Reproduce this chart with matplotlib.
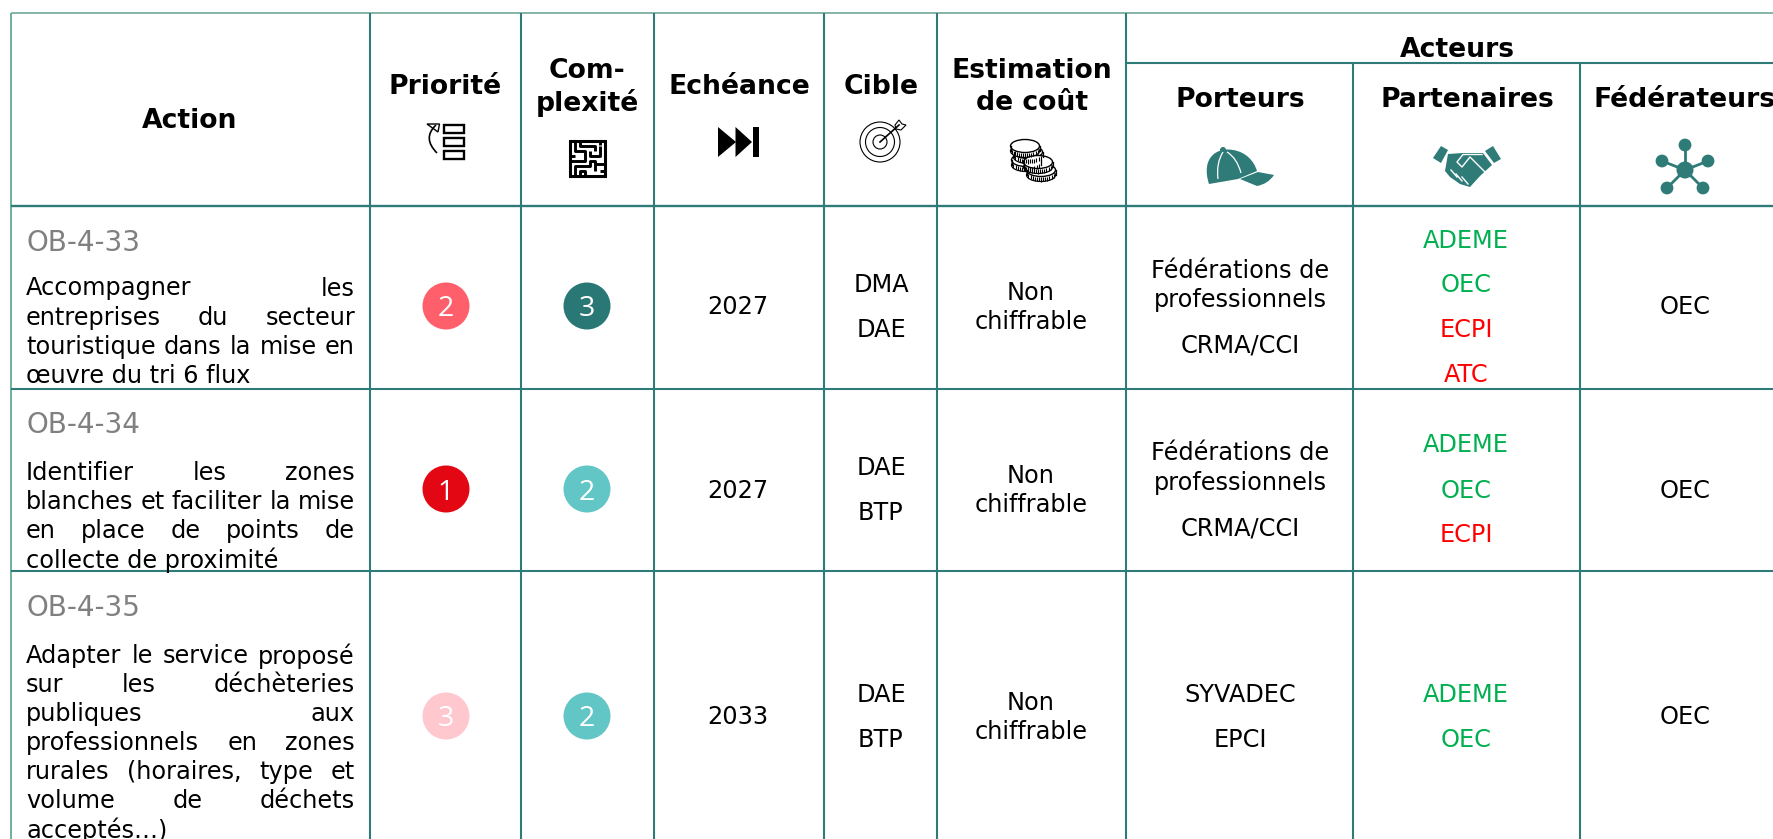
import matplotlib
matplotlib.use("Agg")
import matplotlib.pyplot as plt
from matplotlib.patches import Circle, Rectangle, Polygon, Ellipse, PathPatch
from matplotlib.path import Path

W, H = 1773, 839
TEAL = "#2E7B78"
GREEN = "#00B050"
RED = "#FF0000"
GREY = "#808080"

codes = ["OB-4-33", "OB-4-34", "OB-4-35"]
action_lines = [
    ["Accompagner les", "entreprises du secteur", "touristique dans la mise en", "œuvre du tri 6 flux"],
    ["Identifier les zones", "blanches et faciliter la mise", "en place de points de", "collecte de proximité"],
    ["Adapter le service proposé", "sur les déchèteries", "publiques aux", "professionnels en zones",
     "rurales (horaires, type et", "volume de déchets", "acceptés…)"],
]
priorities = [2, 1, 3]
complexities = [3, 2, 2]
years = ["2027", "2027", "2033"]
targets = [["DMA", "DAE"], ["DAE", "BTP"], ["DAE", "BTP"]]
costs = [["Non", "chiffrable"]] * 3
porteurs = [["Fédérations de", "professionnels", "CRMA/CCI"], ["Fédérations de", "professionnels", "CRMA/CCI"], ["SYVADEC", "EPCI"]]
partners = [["ADEME", "OEC", "ECPI", "ATC"], ["ADEME", "OEC", "ECPI"], ["ADEME", "OEC"]]
partner_colors = {"ADEME": GREEN, "OEC": GREEN, "ECPI": RED, "ATC": RED}
federators = ["OEC", "OEC", "OEC"]
prio_colors = {1: "#E30613", 2: "#FF5F6B", 3: "#FFC7CE"}
comp_colors = {2: "#62C6C6", 3: "#2A7876"}

col_x = [11, 370, 521, 653.5, 824, 937, 1126, 1353, 1580]
row_y = [205.7, 388.7, 571.3]
row_cy = [306, 489, 716]
code_y = [240, 422, 605]
first_line_y = [286, 470, 653.5]
line_steps = [29.3, 29.3, 29.0]
BODY = 17.3
CODE = 20
HEAD = 19.2

fig = plt.figure(figsize=(W / 100, H / 100), dpi=100)
ax = fig.add_axes([0, 0, 1, 1])
ax.set_xlim(0, W)
ax.set_ylim(H, 0)
ax.axis("off")
renderer = fig.canvas.get_renderer()
plt.rcParams["font.family"] = "DejaVu Sans"


def T(x, y, s, size=BODY, color="black", weight="normal", ha="center"):
    return ax.text(x, y, s, fontsize=size, color=color, fontweight=weight, ha=ha, va="center_baseline", clip_on=True)


def hl(y, x0, x1, lw=1.5, c=TEAL):
    ax.plot([x0, x1], [y, y], color=c, lw=lw, solid_capstyle="butt")


def vl(x, y0, y1, lw=1.5, c=TEAL):
    ax.plot([x, x], [y0, y1], color=c, lw=lw, solid_capstyle="butt")


# grid
hl(13, col_x[0], W, lw=1.2, c="#6FA99B")
vl(col_x[0], 13, H, lw=1.4, c="#6FB09A")
for x in col_x[1:7]:
    vl(x, 13, H)
for x in col_x[7:]:
    vl(x, 63, H)
hl(63, col_x[6], W)
for y in row_y:
    hl(y, col_x[0], W, lw=1.7 if y == row_y[0] else 1.5)

# header
T(190, 118, "Action", HEAD, weight="bold")
T(445, 84, "Priorité", HEAD, weight="bold")
T(587, 68, "Com-", HEAD, weight="bold")
T(587, 100, "plexité", HEAD, weight="bold")
T(739, 84, "Echéance", HEAD, weight="bold")
T(881, 84, "Cible", HEAD, weight="bold")
T(1032, 68, "Estimation", HEAD, weight="bold")
T(1032, 100, "de coût", HEAD, weight="bold")
T(1457, 47, "Acteurs", HEAD, weight="bold")
T(1240, 97, "Porteurs", HEAD, weight="bold")
T(1467, 97, "Partenaires", HEAD, weight="bold")
T(1685, 97, "Fédérateurs", HEAD, weight="bold")


def justified(line, y, x0, x1, stretch):
    words = line.split(" ")
    if not stretch or len(words) == 1:
        T(x0, y, line, ha="left")
        return
    items = [T(0, y, w, ha="left") for w in words]
    widths = [t.get_window_extent(renderer).width for t in items]
    gap = (x1 - x0 - sum(widths)) / (len(words) - 1)
    x = x0
    for t, w in zip(items, widths):
        t.set_x(x)
        x += w + gap


def column(x, cy, lines, colors=None, spacing=None):
    for s, y in zip(lines, spacing):
        T(x, cy + y - 1, s, color=(colors[s] if colors else "black"))


for i in range(3):
    T(26, code_y[i], codes[i], size=CODE, color=GREY, ha="left")
    n = len(action_lines[i])
    for j, line in enumerate(action_lines[i]):
        justified(line, first_line_y[i] + j * line_steps[i], 26, 355, j < n - 1)
    cy = row_cy[i]
    for cx, val, cols in ((446, priorities[i], prio_colors), (587, complexities[i], comp_colors)):
        ax.add_patch(Circle((cx, cy), 23.5, fc=cols[val], ec="none"))
        ax.text(cx, cy, str(val), color="white", fontsize=20.5, family="Open Sans", ha="center", va="center_baseline")
    T(738, cy - 1, years[i])
    column(881, cy, targets[i], spacing=[-22.5, 22.5])
    column(1031, cy, costs[i], spacing=[-14.5, 14.5])
    if len(porteurs[i]) == 3:
        column(1240, cy, porteurs[i], spacing=[-37, -7.5, 38])
    else:
        column(1240, cy, porteurs[i], spacing=[-22.5, 22.5])
    sp = {4: [-67, -22.5, 22.5, 68], 3: [-45, 0, 45], 2: [-22.5, 22.5]}[len(partners[i])]
    column(1466, cy, partners[i], partner_colors, sp)
    T(1685, cy - 1, federators[i])

# icons (decoration)
K = "black"
# priority
for y0, y1 in ((125, 133), (138, 146), (151, 159)):
    ax.add_patch(Rectangle((444, y0), 20, y1 - y0, fc="white", ec=K, lw=1.7))
ax.add_patch(PathPatch(Path([(437, 153), (422, 138), (436, 125)], [1, 3, 3]), fc="none", ec=K, lw=1.2))
ax.add_patch(Polygon([(427, 124), (439.5, 124), (438, 132)], fc="none", ec=K, lw=1))

# maze
ox, oy, st = 569.5, 141, 35.5 / 7
ax.add_patch(Rectangle((ox, oy), 35.5, 35, fc="white", ec=K, lw=2.2))
maze = [
    ([0, 3, 3, 1, 1], [4, 4, 2, 2, 0]),
    ([2, 2, 5, 5], [0, 1, 1, 2]),
    ([4, 4, 6, 6], [2, 3, 3, 1]),
    ([0, 1], [3, 3]),
    ([1, 1, 4, 4, 5, 5], [7, 5, 5, 4, 4, 6]),
    ([2, 2, 3, 3], [7, 6, 6, 7]),
    ([5, 7], [4.5, 4.5]),
    ([6, 7], [6, 6]),
    ([6, 6], [0, 0.8]),
]
for xs, ys in maze:
    ax.plot([ox + a * st for a in xs], [oy + b * st for b in ys], color=K, lw=2.1, solid_capstyle="butt")

# skip
ax.add_patch(Polygon([(718, 127), (736, 142), (718, 157)], fc=K, ec="none"))
ax.add_patch(Polygon([(735.5, 127), (752, 142), (735.5, 157)], fc=K, ec="none"))
ax.add_patch(Rectangle((752.5, 127), 6.5, 30, fc=K, ec="none"))

# target
for r in (20, 14.5, 7):
    ax.add_patch(Circle((880, 142), r, fc="none", ec=K, lw=0.8))
ax.plot([880, 899], [142, 125], color=K, lw=1.2)
ax.add_patch(Polygon([(895, 125), (899, 120), (902, 124), (906, 125), (901, 130), (896, 129)], fc="white", ec=K, lw=0.8))


# coins
def coin(cx, cy_):
    ax.add_patch(Rectangle((cx - 14.5, cy_), 29, 5, fc="white", ec="none"))
    ax.add_patch(Ellipse((cx, cy_ + 5), 29, 13, fc="white", ec=K, lw=0.9))
    ax.plot([cx - 14.5, cx - 14.5], [cy_, cy_ + 5], color=K, lw=0.9)
    ax.plot([cx + 14.5, cx + 14.5], [cy_, cy_ + 5], color=K, lw=0.9)
    for k in range(-6, 7):
        dx = k * 2.1
        yb = cy_ + 5 + 6.5 * (1 - (dx / 14.5) ** 2) ** 0.5
        ax.plot([cx + dx, cx + dx], [yb - 4.2, yb], color=K, lw=0.8, solid_capstyle="butt")
    ax.add_patch(Ellipse((cx, cy_), 29, 13, fc="white", ec=K, lw=1))


for c_ in ((1026, 160), (1028, 152), (1025, 146), (1041, 170), (1038, 162)):
    coin(*c_)

# cap
cap = Path([(1209, 184), (1205, 172), (1206, 160), (1214, 154), (1220, 149), (1228, 149), (1233, 150),
            (1246, 152), (1254, 161), (1257, 171), (1238, 179), (1209, 184)],
           [1, 4, 4, 4, 4, 4, 4, 4, 4, 4, 2, 2])
ax.add_patch(PathPatch(cap, fc=TEAL, ec="none"))
ax.add_patch(Circle((1223, 150), 3, fc=TEAL, ec="none"))
brim = Path([(1240, 179), (1258, 172), (1274, 175), (1268, 184), (1257, 186), (1240, 179)], [1, 2, 2, 3, 3, 2])
ax.add_patch(PathPatch(brim, fc=TEAL, ec="none"))
ax.add_patch(PathPatch(Path([(1218, 179), (1216, 163), (1223, 152)], [1, 3, 3]), fc="none", ec="white", lw=0.9))
ax.add_patch(PathPatch(Path([(1241, 173), (1237, 158), (1227, 152)], [1, 3, 3]), fc="none", ec="white", lw=0.9))

# handshake
ax.add_patch(Polygon([(1433, 158), (1441, 146), (1448, 150), (1441, 163)], fc=TEAL, ec="none"))
ax.add_patch(Polygon([(1485, 151), (1493, 146), (1501, 159), (1494, 163)], fc=TEAL, ec="none"))
ax.add_patch(Polygon([(1448, 154), (1463, 153), (1483, 153), (1492, 165), (1480, 176), (1470, 187),
                      (1460, 184), (1450, 177), (1445, 171)], fc=TEAL, ec="none"))
ax.plot([1485, 1470, 1462, 1457, 1463, 1482], [172, 157, 167, 162, 154.5, 154.5], color="white", lw=1)
for x0, y0 in ((1451, 170), (1456, 174), (1462, 177)):
    ax.plot([x0, x0 + 6], [y0, y0 + 7], color="white", lw=1)

# network
hub = (1685, 170)
nodes = [(1685, 145), (1662, 161), (1708, 161), (1667, 188), (1703, 188)]
for n_ in nodes:
    ax.plot([hub[0], n_[0]], [hub[1], n_[1]], color=TEAL, lw=2)
    ax.add_patch(Circle(n_, 6.4, fc=TEAL, ec="none"))
ax.add_patch(Circle(hub, 8.5, fc=TEAL, ec="none"))

fig.savefig("out.png", dpi=100)
